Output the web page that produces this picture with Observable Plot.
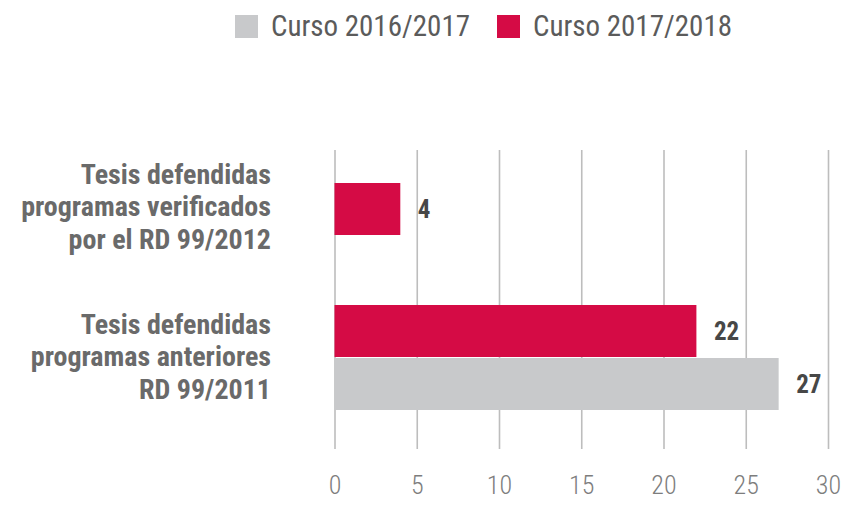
<!DOCTYPE html>
<html>
<head>
<meta charset="utf-8">
<script src="https://cdn.jsdelivr.net/npm/d3@7"></script>
<script src="https://cdn.jsdelivr.net/npm/@observablehq/plot@0.6"></script>
<style>
  html, body { margin: 0; padding: 0; background: #fff; }
  body { width: 841px; height: 506px; overflow: hidden; font-family: "Roboto Condensed", "Roboto", sans-serif; }
  #legend { position: relative; height: 56px; }
  .item { position: absolute; top: 0; height: 53px; display: flex; align-items: center; }
  .sw { width: 23px; height: 23px; margin-right: 13px; }
  .lab { font-size: 29px; color: #5b5b5b; line-height: 1; font-weight: 400; }
  svg { display: block; }
</style>
</head>
<body>
<div id="legend"></div>
<div id="chart"></div>
<script>
const categories = [
  "Tesis defendidas\nprogramas verificados\npor el RD 99/2012",
  "Tesis defendidas\nprogramas anteriores\nRD 99/2011"
];
const series = ["Curso 2016/2017", "Curso 2017/2018"];
const colors = ["#c8c9cb", "#d50b45"];
const values2016 = [null, 27];
const values2017 = [4, 22];
const ticks = [0, 5, 10, 15, 20, 25, 30];
const labelOffsets = [-30, -2];

const rows2016 = categories.map((c, i) => ({category: c, series: series[0], value: values2016[i]})).filter(d => d.value != null);
const rows2017 = categories.map((c, i) => ({category: c, series: series[1], value: values2017[i]}));
const labels = categories.map((c, i) => ({category: c, off: labelOffsets[i]}));

// legend
const legend = document.getElementById("legend");
const legendLeft = [235, 497];
series.forEach((s, i) => {
  const it = document.createElement("div");
  it.className = "item";
  it.style.left = legendLeft[i] + "px";
  it.innerHTML = `<div class="sw" style="background:${colors[i]}"></div><div class="lab">${s}</div>`;
  legend.appendChild(it);
});

const font = '"Roboto Condensed", "Roboto", sans-serif';

const chart = Plot.plot({
  width: 841,
  height: 450,
  marginTop: 94,
  marginBottom: 57,
  marginLeft: 334.5,
  marginRight: 13,
  style: {fontFamily: font, background: "#fff"},
  x: {domain: [0, 30], label: null},
  y: {domain: categories, insetTop: 32, insetBottom: 38, paddingInner: 0.138, paddingOuter: 0, axis: null},
  color: {domain: series, range: colors},
  marks: [
    Plot.ruleX(ticks, {stroke: "#bdbdbd", strokeWidth: 1.6}),
    Plot.barX(rows2017, {x: "value", y: "category", fill: "series", insetBottom: 53}),
    Plot.barX(rows2016, {x: "value", y: "category", fill: "series", insetTop: 53}),
    Plot.text(rows2017, {x: "value", y: "category", text: d => String(d.value), dy: -26.5, dx: 17, textAnchor: "start", fontSize: 25, fontWeight: "bold", fill: "#474747"}),
    Plot.text(rows2016, {x: "value", y: "category", text: d => String(d.value), dy: 26.5, dx: 17, textAnchor: "start", fontSize: 25, fontWeight: "bold", fill: "#474747"}),
    Plot.text(labels.filter(d => d.off === labelOffsets[0]), {x: 0, y: "category", text: "category", dx: -64, dy: labelOffsets[0], textAnchor: "end", lineHeight: 1.16, fontSize: 28, fontWeight: "bold", fill: "#6a6a6a"}),
    Plot.text(labels.filter(d => d.off === labelOffsets[1]), {x: 0, y: "category", text: "category", dx: -64, dy: labelOffsets[1], textAnchor: "end", lineHeight: 1.16, fontSize: 28, fontWeight: "bold", fill: "#6a6a6a"}),
    Plot.axisX({ticks, tickSize: 0, tickPadding: 26, fontSize: 26, fontWeight: 300, fill: "#7d7d7d", label: null, tickFormat: d => String(d)})
  ]
});
document.getElementById("chart").appendChild(chart);
</script>
</body>
</html>
